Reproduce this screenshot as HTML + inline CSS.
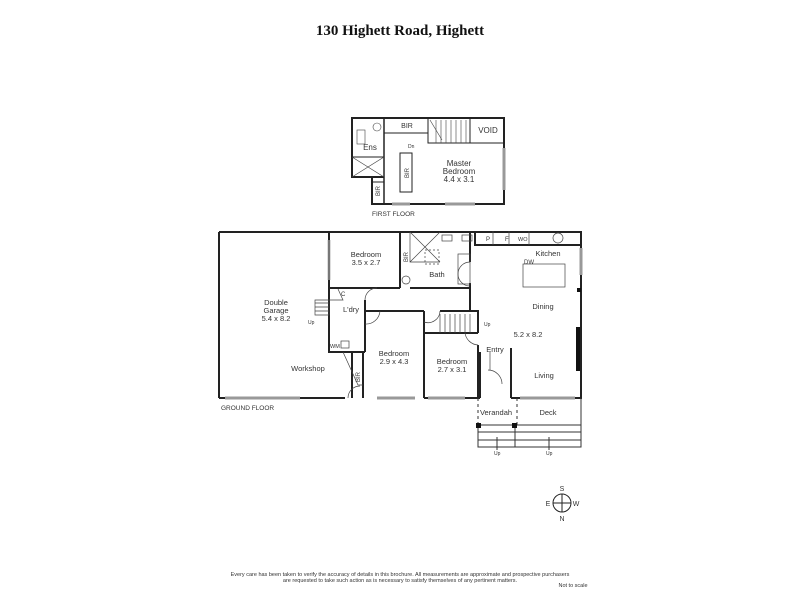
<!DOCTYPE html>
<html><head><meta charset="utf-8"><style>
html,body{margin:0;padding:0;background:#fff;}
svg{display:block;}
text{font-family:"Liberation Sans",sans-serif;fill:#333;}
</style></head><body>
<svg width="800" height="600" viewBox="0 0 800 600" xmlns="http://www.w3.org/2000/svg">
<text x="400" y="35" text-anchor="middle" style="font-family:'Liberation Serif',serif;font-weight:bold;font-size:15px;fill:#111">130 Highett Road, Highett</text>

<!-- FIRST FLOOR -->
<g fill="none" stroke="#222" stroke-width="2">
<path d="M352,118 H504 V204 H372 V177 H352 Z"/>
<path d="M384,118 V204" stroke-width="1.5"/>
<path d="M352,177 H384"/>
<path d="M352,157 H384" stroke-width="1"/>
<path d="M384,133 H428" stroke-width="1"/>
<path d="M428,118 V143 H504" stroke-width="1"/>
<path d="M470,118 V143" stroke-width="1"/>
<rect x="400" y="153" width="12" height="39" stroke-width="1"/>
<path d="M372,182 H384" stroke-width="1"/>
</g>
<g stroke="#444" stroke-width="0.6" fill="none">
<path d="M352,157 L384,177 M384,157 L352,177"/>
<path d="M436,120 V143 M441,120 V143 M446,120 V143 M451,120 V143 M456,120 V143 M461,120 V143 M466,120 V143"/>
<path d="M430,120 L442,140"/>
<rect x="357" y="130" width="8" height="14"/>
<circle cx="377" cy="127" r="4"/>
</g>
<path d="M504,148 V190" stroke="#999" stroke-width="3"/>
<path d="M392,204 H410 M445,204 H475" stroke="#999" stroke-width="3"/>
<g font-size="7">
<text x="407" y="128" text-anchor="middle">BIR</text>
<text x="488" y="133" text-anchor="middle" font-size="8">VOID</text>
<text x="370" y="150" text-anchor="middle" font-size="8">Ens</text>
<text x="408" y="148" font-size="5">Dn</text>
<text x="459" y="166" text-anchor="middle" font-size="8">Master</text>
<text x="459" y="174" text-anchor="middle" font-size="8">Bedroom</text>
<text x="459" y="182" text-anchor="middle" font-size="8">4.4 x 3.1</text>
<text x="409" y="173" text-anchor="middle" font-size="6" transform="rotate(-90 409 173)">BIR</text>
<text x="380" y="191" text-anchor="middle" font-size="6" transform="rotate(-90 380 191)">BIR</text>
<text x="372" y="216" font-size="6.5">FIRST FLOOR</text>
</g>

<!-- GROUND FLOOR -->
<g fill="none" stroke="#222" stroke-width="2">
<path d="M219,232 H581 V398 H511 M480,398 H424 M345,398 H219 Z"/>
<path d="M219,232 V398"/>
<path d="M329,232 V352 H365"/>
<path d="M329,288 H400 M410,288 H470 V294"/>
<path d="M400,232 V288"/>
<path d="M470,232 V262 M470,283 V311"/>
<path d="M365,300 V352 M365,311 H424 M440,311 H478 V333 M478,345 V398"/>
<path d="M424,311 V398"/>
<path d="M363,352 V398 M352,352 V398"/>
<path d="M424,333 H478"/>
<path d="M480,352 V398 M511,348 V398"/>
<path d="M475,231 V245 H581"/>
</g>
<g stroke="#444" stroke-width="0.7" fill="none">
<path d="M410,232 L440,262 M440,232 L410,262 M410,232 V262 H440"/>
<rect x="442" y="235" width="10" height="6"/>
<rect x="462" y="235" width="10" height="6"/>
<rect x="425" y="250" width="14" height="14" stroke-dasharray="2,2"/>
<rect x="458" y="254" width="12" height="30"/>
<circle cx="406" cy="280" r="4"/>
<rect x="523" y="264" width="42" height="23"/>
<path d="M493,231 V245 M509,231 V245 M529,231 V245"/>
<circle cx="558" cy="238" r="5"/>
<path d="M440,314 V333 M445,314 V333 M450,314 V333 M455,314 V333 M460,314 V333 M465,314 V333 M470,314 V333"/>
<path d="M315,315 H329 V300 H315 Z M315,303 H329 M315,307 H329 M315,311 H329"/>
<rect x="341" y="341" width="8" height="7"/>
<path d="M338,289 L343,300 H329"/>
<path d="M343,352 L358,385 H363"/>
<path d="M365,300 A12,12 0 0 1 377,288"/>
<path d="M365,324 A14,14 0 0 0 380,311"/>
<path d="M440,311 A12,12 0 0 1 424,322"/>
<path d="M478,345 A14,14 0 0 1 465,333"/>
<path d="M470,262 A12,12 0 0 0 470,286"/>
<path d="M488,370 A14,14 0 0 1 502,384"/>
<path d="M348,398 A12,12 0 0 1 360,386"/>
<path d="M490,352 V370" />
</g>
<path d="M329,240 V280" stroke="#777" stroke-width="2.5"/>
<path d="M225,398 H300" stroke="#999" stroke-width="3"/>
<path d="M377,398 H415 M428,398 H465 M520,398 H575" stroke="#999" stroke-width="3"/>
<path d="M581,248 V275" stroke="#999" stroke-width="3"/>
<path d="M578,327 V371" stroke="#111" stroke-width="4"/>
<rect x="577" y="288" width="4" height="4" fill="#111"/>
<!-- verandah / deck -->
<g stroke="#333" fill="none" stroke-width="1">
<path d="M478,398 V425 M517,398 V425" stroke-dasharray="3,3"/>
<path d="M478,425 H581 V447 H478 Z M478,432 H581 M478,440 H581 M515,425 V447 M581,398 V447"/>
<path d="M497,450 V437 M549,450 V437"/>
</g>
<rect x="476" y="423" width="5" height="5" fill="#111"/>
<rect x="512" y="423" width="5" height="5" fill="#111"/>
<g font-size="7.5">
<text x="366" y="257" text-anchor="middle">Bedroom</text>
<text x="366" y="265" text-anchor="middle">3.5 x 2.7</text>
<text x="437" y="277" text-anchor="middle">Bath</text>
<text x="276" y="305" text-anchor="middle">Double</text>
<text x="276" y="313" text-anchor="middle">Garage</text>
<text x="276" y="321" text-anchor="middle">5.4 x 8.2</text>
<text x="351" y="312" text-anchor="middle">L'dry</text>
<text x="341" y="296" font-size="6">C</text>
<text x="330" y="348" font-size="5.5">WM</text>
<text x="308" y="371" text-anchor="middle">Workshop</text>
<text x="394" y="356" text-anchor="middle">Bedroom</text>
<text x="394" y="364" text-anchor="middle">2.9 x 4.3</text>
<text x="452" y="364" text-anchor="middle">Bedroom</text>
<text x="452" y="372" text-anchor="middle">2.7 x 3.1</text>
<text x="548" y="256" text-anchor="middle">Kitchen</text>
<text x="524" y="264" font-size="6">DW</text>
<text x="543" y="309" text-anchor="middle">Dining</text>
<text x="528" y="337" text-anchor="middle">5.2 x 8.2</text>
<text x="495" y="352" text-anchor="middle">Entry</text>
<text x="544" y="378" text-anchor="middle">Living</text>
<text x="496" y="415" text-anchor="middle">Verandah</text>
<text x="548" y="415" text-anchor="middle">Deck</text>
<text x="486" y="241" font-size="6">P</text>
<text x="505" y="241" font-size="6">F</text>
<text x="518" y="241" font-size="5.5">WO</text>
<text x="221" y="410" font-size="6.5">GROUND FLOOR</text>
<text x="484" y="326" font-size="5">Up</text>
<text x="308" y="324" font-size="5">Up</text>
<text x="494" y="455" font-size="5">Up</text>
<text x="546" y="455" font-size="5">Up</text>
<text x="408" y="257" font-size="6" transform="rotate(-90 408 257)" text-anchor="middle">BIR</text>
<text x="360" y="377" font-size="6" transform="rotate(-90 360 377)" text-anchor="middle">BIR</text>
</g>

<!-- compass -->
<g stroke="#222" fill="none" stroke-width="1">
<circle cx="562" cy="503" r="9"/>
<path d="M553,503 H571 M562,494 V512"/>
</g>
<g font-size="7" text-anchor="middle">
<text x="562" y="491">S</text>
<text x="562" y="521">N</text>
<text x="548" y="506">E</text>
<text x="576" y="506">W</text>
</g>
<g font-size="5.5" text-anchor="middle">
<text x="400" y="576">Every care has been taken to verify the accuracy of details in this brochure.  All measurements are approximate and prospective purchasers</text>
<text x="400" y="582">are requested to take such action as is necessary to satisfy themselves of any pertinent matters.</text>
<text x="573" y="587">Not to scale</text>
</g>
</svg>
</body></html>
